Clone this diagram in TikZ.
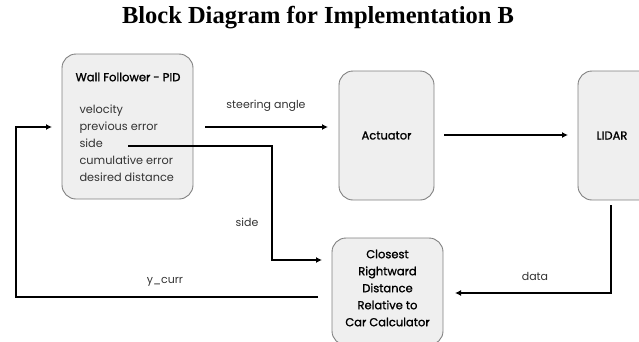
\documentclass[tikz,border=0pt]{standalone}
\usepackage{fontspec}
\setmainfont{Poppins}
\newfontfamily\titlefont{Liberation Serif}
\newfontfamily\blockfont[FakeBold=1.3]{Poppins}
\usetikzlibrary{arrows.meta}
\definecolor{boxfill}{HTML}{EFEFEF}
\definecolor{boxline}{HTML}{808080}
\definecolor{labeltext}{HTML}{333333}
\tikzset{
  blockbox/.style={draw=boxline, fill=boxfill, line width=0.9pt, rounded corners=14pt},
  link/.style={line width=2.4pt, -{Latex[length=6pt,width=6pt]}},
  lbl/.style={text=labeltext, font=\fontsize{11}{13}\selectfont},
  blocktext/.style={font=\blockfont\fontsize{11.5}{13}\selectfont, align=center, text=black}
}
\begin{document}
\begin{tikzpicture}[x=1pt,y=-1pt]
\useasboundingbox (0,0) rectangle (639,341);
% title
\node[font=\titlefont\fontsize{24.5}{28}\selectfont\bfseries] (title) at (318,18) {Block Diagram for Implementation B};
% blocks
\draw[blockbox] (62,54) rectangle (193,199);
\node[blocktext] (wftitle) at (128,77) {Wall Follower - PID};
\node[anchor=west, font=\fontsize{11.3}{16.9}\selectfont, align=left, text=labeltext] (wfvars) at (76,143)
  {velocity\\previous error\\side\\cumulative error\\desired distance};
\draw[blockbox] (339,71) rectangle (434,200);
\node[blocktext] (act) at (386.5,135.5) {Actuator};
\draw[blockbox] (578,71) rectangle (660,200);
\node[blocktext] (lidar) at (612,135.5) {LIDAR};
\draw[blockbox] (332,238) rectangle (443,345);
\node[blocktext, font=\blockfont\fontsize{11.5}{17}\selectfont] (calc) at (387.5,288) {Closest\\Rightward\\Distance\\Relative to\\Car Calculator};
% anchor points of the connectors
\coordinate (wfout) at (205,127);
\coordinate (actin) at (328,127);
\coordinate (actout) at (444,135);
\coordinate (lidin) at (568,135);
\coordinate (lidout) at (611,205);
\coordinate (calcin) at (455,293);
\coordinate (sideout) at (128,146);
\coordinate (calcside) at (322,260);
\coordinate (calcout) at (318,297);
\coordinate (wfin) at (52,127);
% connectors
\draw[link] (wfout) -- (actin);
\draw[link] (actout) -- (lidin);
\draw[link] (lidout) |- (calcin);
\draw[link] (sideout) -- (272,146) |- (calcside);
\draw[link] (calcout) -- (16,297) |- (wfin);
% labels
\node[lbl] (lsteer) at (266,106) {steering angle};
\node[lbl] (ldata) at (535,276) {data};
\node[lbl] (lside) at (247,222) {side};
\node[lbl] (lycurr) at (165,282) {y\_curr};
\end{tikzpicture}
\end{document}
